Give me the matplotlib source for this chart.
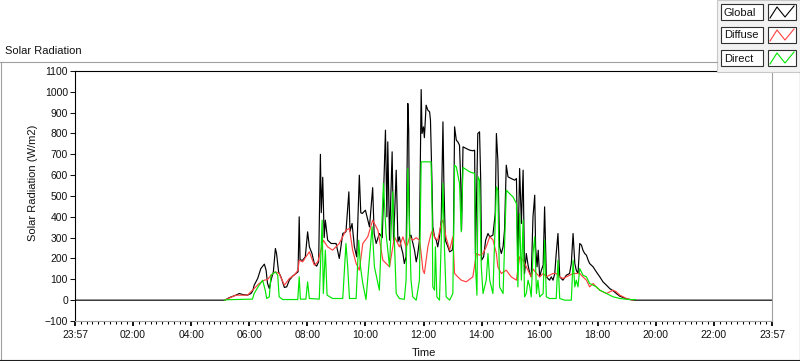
import numpy as np
import matplotlib.pyplot as plt
from matplotlib.patches import Rectangle
from matplotlib.lines import Line2D

plt.rcParams['font.family'] = ['Liberation Sans', 'DejaVu Sans']

W, H = 800, 361

# hours on the time axis (0 = 23:57 of the evening before)
global_t = [0.00, 5.15, 5.20, 5.31, 5.54, 5.66, 5.77, 5.94, 6.06, 6.12, 6.17, 6.29, 6.40, 6.52,
            6.58, 6.63, 6.69, 6.75, 6.83, 6.90, 6.94, 7.01, 7.09, 7.21, 7.29, 7.38, 7.49, 7.61,
            7.68, 7.72, 7.75, 7.84, 7.93, 8.01, 8.07, 8.16, 8.24, 8.32, 8.39, 8.45, 8.48, 8.53,
            8.58, 8.62, 8.70, 8.82, 8.99, 9.10, 9.22, 9.33, 9.43, 9.47, 9.54, 9.62, 9.70, 9.79,
            9.84, 9.89, 10.00, 10.14, 10.25, 10.30, 10.37, 10.48, 10.58, 10.69, 10.74, 10.77,
            10.83, 10.92, 10.97, 11.06, 11.12, 11.17, 11.23, 11.29, 11.34, 11.40, 11.46, 11.49,
            11.52, 11.57, 11.69, 11.75, 11.80, 11.86, 11.92, 11.95, 12.00, 12.03, 12.09, 12.15,
            12.21, 12.24, 12.29, 12.32, 12.38, 12.44, 12.49, 12.55, 12.61, 12.67, 12.70, 12.75,
            12.84, 12.90, 12.99, 13.03, 13.07, 13.13, 13.18, 13.24, 13.28, 13.31, 13.36, 13.47,
            13.59, 13.70, 13.76, 13.79, 13.84, 13.87, 13.93, 13.97, 14.00, 14.07, 14.14, 14.22,
            14.28, 14.39, 14.47, 14.51, 14.56, 14.60, 14.62, 14.68, 14.74, 14.79, 14.85, 14.91,
            15.02, 15.14, 15.20, 15.25, 15.31, 15.37, 15.43, 15.48, 15.54, 15.60, 15.66, 15.71,
            15.77, 15.83, 15.86, 15.91, 15.95, 16.00, 16.06, 16.12, 16.17, 16.23, 16.34, 16.40,
            16.46, 16.52, 16.57, 16.63, 16.69, 16.80, 16.92, 17.03, 17.09, 17.15, 17.21, 17.26,
            17.32, 17.38, 17.44, 17.49, 17.55, 17.61, 17.67, 17.72, 17.84, 17.95, 18.07, 18.18,
            18.30, 18.41, 18.53, 18.64, 18.76, 18.99, 19.22, 24.00]
global_w = [0, 0, 3, 12, 24, 32, 27, 24, 32, 45, 72, 104, 152, 173,
            144, 80, 56, 96, 136, 248, 224, 136, 112, 61, 64, 96, 115, 128,
            136, 400, 192, 192, 208, 328, 256, 224, 176, 163, 184, 700, 420, 590,
            300, 384, 288, 272, 272, 200, 320, 328, 520, 330, 368, 256, 208, 600,
            420, 416, 432, 352, 540, 320, 272, 320, 300, 816, 400, 760,
            288, 712, 272, 624, 280, 304, 256, 224, 176, 208, 944, 816,
            304, 312, 240, 184, 220, 288, 1011, 800, 832, 780, 936, 912,
            904, 864, 576, 352, 304, 288, 256, 304, 384, 856, 576, 288,
            256, 232, 240, 288, 832, 768, 760, 744, 576, 336, 736, 728,
            720, 717, 720, 224, 576, 800, 808, 576, 192, 208, 288, 320,
            304, 312, 416, 800, 672, 400, 256, 224, 256, 336, 648, 592,
            584, 576, 584, 192, 632, 368, 624, 128, 224, 168, 128, 112,
            400, 504, 256, 160, 240, 112, 144, 168, 448, 112, 96, 112,
            96, 128, 224, 320, 112, 96, 120, 128, 176, 320, 176, 144,
            128, 272, 264, 240, 224, 216, 192, 176, 160, 136, 112, 88,
            72, 56, 45, 32, 19, 6, 0, 0]

diffuse_t = [5.15, 5.20, 5.54, 5.94, 6.17, 6.34, 6.52, 6.63, 6.75, 6.90, 7.03, 7.21,
             7.38, 7.55, 7.68, 7.72, 7.84, 7.95, 8.07, 8.24, 8.36, 8.47, 8.55, 8.70, 8.87,
             9.10, 9.33, 9.45, 9.56, 9.68, 9.79, 9.91, 10.08, 10.25, 10.43, 10.60, 10.83,
             11.00, 11.17, 11.29, 11.40, 11.46, 11.52, 11.63, 11.75, 11.86, 11.92, 11.98,
             12.03, 12.15, 12.26, 12.32, 12.38, 12.49, 12.61, 12.67, 12.78, 12.90, 13.01,
             13.07, 13.18, 13.30, 13.47, 13.70, 13.82, 13.93, 14.05, 14.16, 14.28, 14.39,
             14.51, 14.56, 14.68, 14.85, 15.02, 15.20, 15.31, 15.43, 15.54, 15.71, 15.77,
             15.89, 16.00, 16.12, 16.23, 16.34, 16.46, 16.57, 16.69, 16.80, 16.92, 17.03,
             17.15, 17.38, 17.49, 17.61, 17.72, 17.84, 17.95, 18.07, 18.30, 18.53, 18.64,
             18.76, 18.99, 19.22]
diffuse_w = [0, 3, 24, 24, 56, 80, 96, 99, 120, 136, 128, 72,
             104, 120, 144, 192, 184, 208, 232, 168, 184, 240, 288, 256, 240,
             272, 336, 344, 240, 176, 144, 272, 304, 384, 336, 192, 160,
             304, 256, 304, 256, 272, 304, 288, 300, 288, 224, 144,
             128, 256, 320, 336, 300, 288, 368, 384, 300, 240, 304,
             128, 112, 96, 88, 112, 224, 216, 224, 256, 304, 290,
             224, 160, 128, 144, 112, 96, 208, 192, 160, 112, 150,
             128, 112, 128, 112, 120, 128, 128, 112, 104, 112, 120,
             128, 128, 112, 96, 64, 80, 64, 48, 32, 48, 40,
             24, 8, 0]

direct_t = [5.15, 5.20, 6.11, 6.17, 6.29, 6.46, 6.55, 6.60, 6.69, 6.75, 6.90, 6.98,
            7.03, 7.15, 7.67, 7.72, 7.76, 7.95, 8.01, 8.07, 8.41, 8.51, 8.55, 8.62, 8.68,
            8.87, 9.22, 9.33, 9.39, 9.45, 9.68, 9.77, 9.83, 9.91, 10.02, 10.23, 10.31,
            10.48, 10.62, 10.71, 10.83, 10.94, 11.06, 11.17, 11.34, 11.40, 11.46, 11.52,
            11.57, 11.63, 11.75, 11.86, 11.92, 12.26, 12.30, 12.32, 12.38, 12.41, 12.46,
            12.55, 12.67, 12.72, 12.78, 12.90, 13.01, 13.07, 13.13, 13.24, 13.30, 13.36,
            13.47, 13.59, 13.76, 13.79, 13.84, 13.88, 13.93, 13.99, 14.05, 14.16, 14.22,
            14.28, 14.39, 14.51, 14.56, 14.62, 14.74, 14.85, 14.96, 15.08, 15.20, 15.25,
            15.31, 15.37, 15.43, 15.48, 15.54, 15.60, 15.66, 15.71, 15.77, 15.83, 15.89,
            15.94, 16.00, 16.12, 16.17, 16.23, 16.34, 16.57, 16.63, 16.69, 16.86, 17.09,
            17.13, 17.15, 17.21, 17.26, 17.32, 17.38, 17.49, 17.61, 17.72, 17.84, 17.95,
            18.07, 18.30, 18.53, 18.76, 19.10, 19.30]
direct_w = [0, 2, 5, 32, 61, 96, 48, 8, 16, 120, 136, 120,
            16, 3, 3, 112, 5, 5, 88, 8, 5, 384, 32, 240, 24,
            8, 8, 272, 160, 8, 8, 288, 160, 80, 3, 352, 160,
            48, 560, 320, 160, 520, 32, 8, 4, 96, 632, 352,
            96, 16, 0, 96, 664, 664, 416, 64, 48, 256, 16,
            0, 560, 256, 16, 0, 32, 648, 640, 560, 328, 637,
            627, 616, 608, 160, 24, 592, 576, 160, 32, 96, 224,
            96, 32, 544, 528, 64, 32, 528, 512, 496, 464, 64,
            416, 96, 384, 16, 32, 96, 64, 16, 224, 304, 32,
            96, 16, 32, 288, 16, 8, 8, 192, 8, 0, 0,
            128, 192, 64, 96, 64, 152, 120, 112, 80, 72, 64,
            48, 32, 16, 8, 3, 3]

series_names = ['Global', 'Diffuse', 'Direct']
series_colors = ['black', '#ff4040', '#00e600']
time_labels = ['23:57', '02:00', '04:00', '06:00', '08:00', '10:00', '12:00',
               '14:00', '16:00', '18:00', '20:00', '22:00', '23:57']


def fx(x):
    return x / W


def fy(y):
    return 1 - y / H


fig = plt.figure(figsize=(W / 100, H / 100), dpi=100)
ax = fig.add_axes([fx(75), fy(321), 697 / W, 250 / H])

ax.plot(global_t, global_w, color=series_colors[0], lw=0.85)
ax.plot(diffuse_t, diffuse_w, color=series_colors[1], lw=0.85)
ax.plot(direct_t, direct_w, color=series_colors[2], lw=0.85)

ax.set_xlim(0, 24)
ax.set_ylim(-100, 1100)
ax.set_yticks(np.arange(-100, 1101, 100))
ax.set_xticks(np.arange(0, 24.01, 2))
ax.set_xticklabels(time_labels)
ax.set_xticks(np.arange(0, 24.01, 0.2), minor=True)
ax.tick_params(axis='y', length=3.6, width=0.75, pad=1.5, labelsize=7.5, colors='#111111')
ax.tick_params(axis='x', which='major', length=3.5, width=1.4, pad=3, labelsize=7.5,
               colors='#111111')
ax.tick_params(axis='x', which='minor', length=2, width=0.75)

for side in ['left', 'top']:
    ax.spines[side].set_color('black')
    ax.spines[side].set_linewidth(0.8)
for side in ['right', 'bottom']:
    ax.spines[side].set_color('#a0a0a0')
    ax.spines[side].set_linewidth(0.8)

# outer frame of the graph control
fig.add_artist(Line2D([fx(0), fx(717)], [fy(61.5), fy(61.5)], color='#a0a0a0', lw=0.8))
fig.add_artist(Line2D([fx(0.5), fx(0.5)], [fy(61.5), fy(360)], color='#a0a0a0', lw=0.8))
fig.add_artist(Line2D([fx(0), fx(799.5)], [fy(359.5), fy(359.5)], color='#202020', lw=0.8))
fig.add_artist(Line2D([fx(799.5), fx(799.5)], [fy(72), fy(360)], color='#202020', lw=0.8))

fig.text(fx(5), fy(51), 'Solar Radiation', fontsize=8, ha='left', va='center', color='#111111')
fig.text(fx(33), fy(183), 'Solar Radiation (W/m2)', fontsize=8, rotation=90,
         ha='center', va='center', color='#111111')
fig.text(fx(424), fy(353), 'Time', fontsize=8, ha='center', va='center', color='#111111')

# plot legend panel
fig.add_artist(Rectangle((fx(717), fy(72)), 83 / W, 72 / H, facecolor='#f2f2f2',
                         edgecolor='#c8c8c8', lw=0.8))
for i, (name, color) in enumerate(zip(series_names, series_colors)):
    top = 4 + 23 * i
    fig.add_artist(Rectangle((fx(721), fy(top + 16)), 42 / W, 16 / H, facecolor='white',
                             edgecolor='#303030', lw=0.8))
    fig.add_artist(Rectangle((fx(768), fy(top + 16)), 28 / W, 16 / H, facecolor='white',
                             edgecolor='#303030', lw=0.8))
    fig.text(fx(724), fy(top + 8.5), name, fontsize=8, ha='left', va='center', color='#111111')
    fig.add_artist(Line2D([fx(770), fx(777), fx(785), fx(794)],
                          [fy(top + 14), fy(top + 3), fy(top + 13), fy(top + 2)],
                          color=color, lw=0.8))

fig.savefig('out.png', dpi=100)
